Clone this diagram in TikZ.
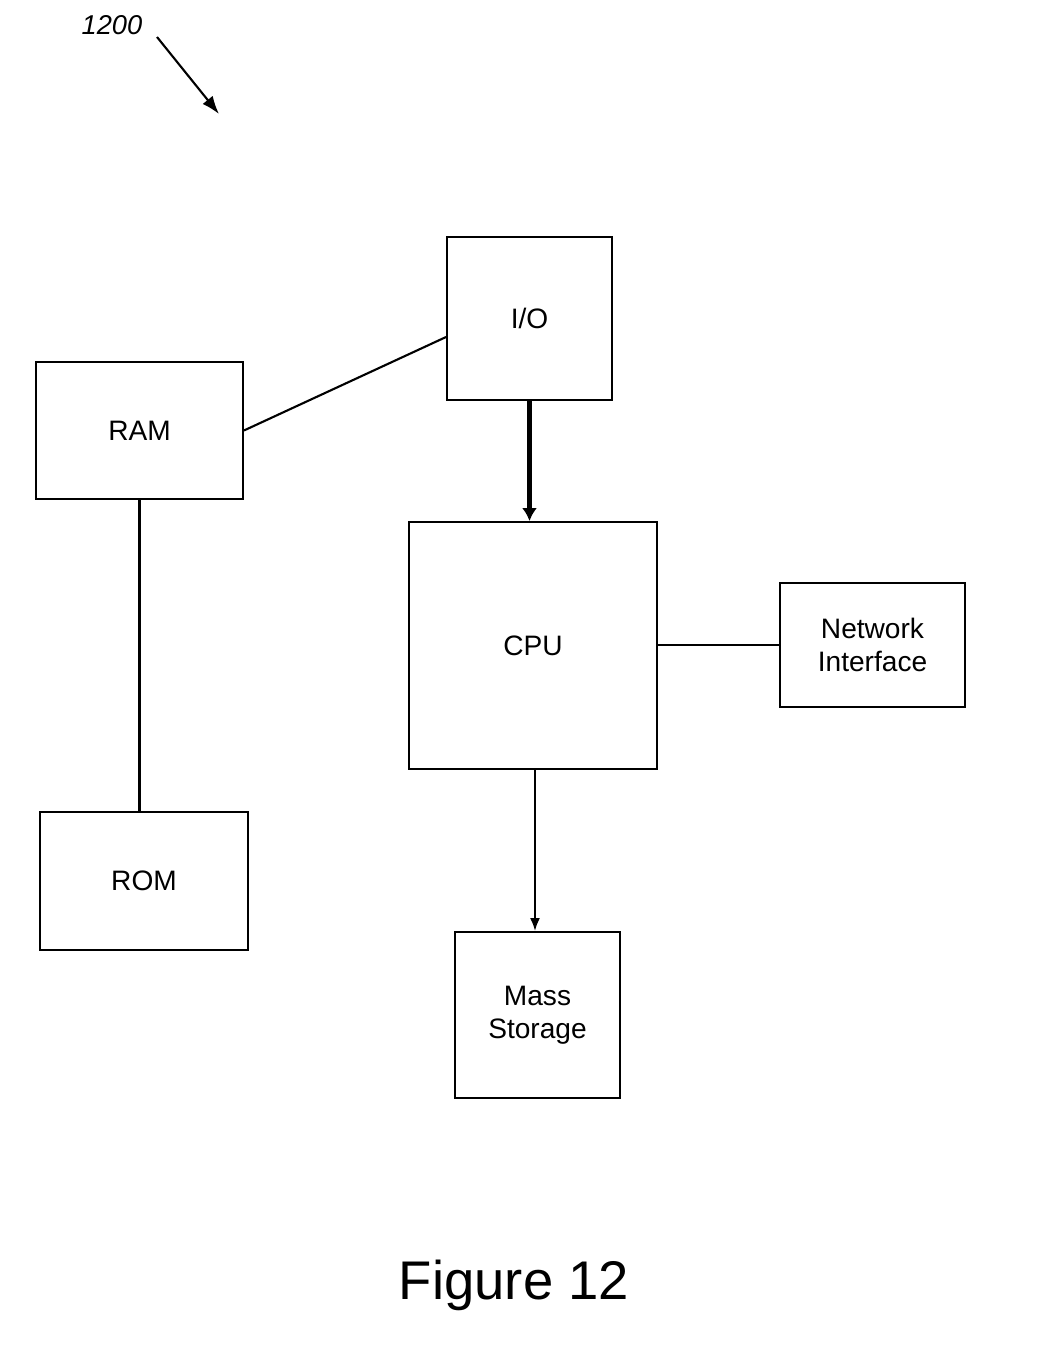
\documentclass[tikz,border=0pt]{standalone}
\usepackage{fontspec}
\setmainfont{Liberation Sans}
\usetikzlibrary{arrows.meta}

\begin{document}
\begin{tikzpicture}[x=0.02cm, y=-0.02cm, >={Latex[length=0.26cm,width=0.2cm]},
    blok/.style={draw, line width=1.1pt, rectangle, align=center, font=\fontsize{16}{19}\selectfont},
    spoj/.style={line width=1.2pt}]
        \useasboundingbox (0,0) rectangle (1041,1370);
        % ==== REFERENCE LABEL ====
        \node (ref) at (112,25) {\fontsize{15.5}{18}\selectfont\itshape 1200};
        \coordinate (reftip) at (219,114);
        \draw[-{Latex[length=0.36cm,width=0.26cm]}, line width=1.2pt] (157,37) -- (reftip);
        % ==== BLOCKS ====
        \node[blok, minimum width=3.3cm, minimum height=3.26cm] (io) at (529.5,318.5) {I/O};
        \node[blok, minimum width=4.14cm, minimum height=2.74cm] (ram) at (139.5,430.5) {RAM};
        \node[blok, minimum width=4.96cm, minimum height=4.94cm] (cpu) at (533,645.5) {CPU};
        \node[blok, minimum width=3.7cm, minimum height=2.48cm] (net) at (872.5,645) {Network\\Interface};
        \node[blok, minimum width=4.16cm, minimum height=2.76cm] (rom) at (144,881) {ROM};
        \node[blok, minimum width=3.3cm, minimum height=3.32cm] (mass) at (537.5,1015) {Mass\\Storage};
        % ==== CONNECTIONS ====
        \draw[spoj] (ram.east) -- ([yshift=-0.37cm]io.west);
        \draw[-{Latex[length=0.26cm,width=0.3cm]}, line width=2.3pt] (io.south) -- (io.south |- cpu.north);
        \draw[spoj] (ram.south) -- (ram.south |- rom.north);
        \draw[spoj] (cpu.east |- net.west) -- (net.west);
        \draw[spoj, ->] ([xshift=0.04cm]cpu.south) -- ([xshift=0.04cm]cpu.south |- mass.north);
        % ==== Title ====
        \node (title) at (514,1285) {\fontsize{31}{36}\selectfont Figure 12};
\end{tikzpicture}
\end{document}
